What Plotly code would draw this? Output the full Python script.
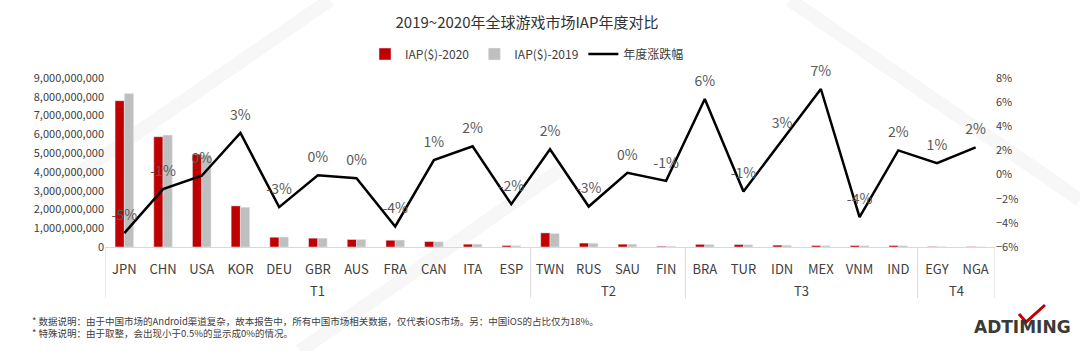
import plotly.graph_objects as go

# ---- data ----
tiers = ["T1"] * 11 + ["T2"] * 4 + ["T3"] * 6 + ["T4"] * 2
countries = ["JPN", "CHN", "USA", "KOR", "DEU", "GBR", "AUS", "FRA", "CAN", "ITA", "ESP",
             "TWN", "RUS", "SAU", "FIN",
             "BRA", "TUR", "IDN", "MEX", "VNM", "IND",
             "EGY", "NGA"]
iap_2020 = [7.79e9, 5.87e9, 4.94e9, 2.19e9, 0.52e9, 0.47e9, 0.40e9, 0.36e9, 0.29e9, 0.15e9, 0.08e9,
            0.75e9, 0.21e9, 0.15e9, 0.04e9,
            0.14e9, 0.13e9, 0.10e9, 0.08e9, 0.08e9, 0.08e9,
            0.02e9, 0.015e9]
iap_2019 = [8.18e9, 5.96e9, 4.90e9, 2.12e9, 0.53e9, 0.47e9, 0.40e9, 0.37e9, 0.28e9, 0.15e9, 0.07e9,
            0.72e9, 0.20e9, 0.15e9, 0.04e9,
            0.13e9, 0.12e9, 0.09e9, 0.07e9, 0.07e9, 0.07e9,
            0.015e9, 0.01e9]
yoy_pct = [-4.85, -1.2, -0.1, 3.45, -2.7, -0.05, -0.3, -4.3, 1.2, 2.35, -2.45,
           2.1, -2.65, 0.15, -0.52,
           6.26, -1.4, 2.8, 7.09, -3.52, 2.0,
           0.95, 2.25]
yoy_labels = [f"{round(v)}%" for v in yoy_pct]

title_text = "2019~2020年全球游戏市场IAP年度对比"
note1 = "* 数据说明：由于中国市场的Android渠道复杂，故本报告中，所有中国市场相关数据，仅代表iOS市场。另：中国iOS的占比仅为18%。"
note2 = "* 特殊说明：由于取整，会出现小于0.5%的显示成0%的情况。"

FONT = "Noto Sans CJK SC"
xi = list(range(len(countries)))

fig = go.Figure()
fig.add_trace(go.Bar(x=xi, y=iap_2020, name="IAP($)-2020", marker_color="#C00000"))
fig.add_trace(go.Bar(x=xi, y=iap_2019, name="IAP($)-2019", marker_color="#BFBFBF"))
fig.add_trace(go.Scatter(
    x=xi, y=yoy_pct, name="年度涨跌幅", yaxis="y2",
    mode="lines+markers+text", text=yoy_labels, textposition="top center",
    textfont=dict(size=14, color="#595959", family=FONT),
    line=dict(color="black", width=2.5),
    marker=dict(size=14, color="rgba(0,0,0,0)"),
    cliponaxis=False,
))

# plot area geometry in pixels (for decorations)
L, R, T, B = 105, 995, 78, 247
def px(xp):
    return (xp - L) / (R - L)
def py(yp):
    return (B - yp) / (B - T)

fig.update_layout(
    width=1080, height=351,
    margin=dict(l=L, r=1080 - R, t=T, b=351 - B),
    paper_bgcolor="white", plot_bgcolor="white",
    font=dict(family=FONT, color="#404040", size=12),
    title=dict(text=title_text, x=527 / 1080, xanchor="center", y=1 - 23 / 351, yanchor="middle",
               font=dict(size=15, color="#333333", family=FONT)),
    barmode="group", bargap=0.52, bargroupgap=0,
    showlegend=True,
    legend=dict(orientation="h", x=px(527), xanchor="center", y=py(54), yanchor="middle",
                font=dict(size=12, color="#404040", family=FONT), itemwidth=30,
                bgcolor="rgba(0,0,0,0)"),
    xaxis=dict(range=[-0.5, len(countries) - 0.5], tickmode="array", tickvals=xi, ticktext=countries,
               showline=True, linecolor="#D9D9D9", linewidth=1, zeroline=False,
               ticklabelstandoff=10,
               tickfont=dict(size=13, color="#404040"), ticks="", showgrid=False),
    yaxis=dict(range=[0, 9e9], dtick=1e9, tickformat=",", showgrid=False, zeroline=False,
               showline=False, ticks="", tickfont=dict(size=11, color="#404040")),
    yaxis2=dict(range=[-6, 8], dtick=2, ticksuffix="%", overlaying="y", side="right",
                showgrid=False, zeroline=False, showline=False, ticks="",
                tickfont=dict(size=11, color="#404040")),
)

annotations = [
    dict(text=note1, xref="paper", yref="paper", x=px(30), y=py(321), showarrow=False,
         xanchor="left", yanchor="middle", font=dict(size=9.5, color="#404040", family=FONT)),
    dict(text=note2, xref="paper", yref="paper", x=px(30), y=py(333), showarrow=False,
         xanchor="left", yanchor="middle", font=dict(size=9.5, color="#404040", family=FONT)),
    dict(text="<b>ADTIMING</b>", xref="paper", yref="paper", x=px(1073), y=py(327), showarrow=False,
         xanchor="right", yanchor="middle", font=dict(size=17, color="#3A3A3A", family="DejaVu Sans")),
]

# group labels and dividers of the two-level category axis
groups = []
for i, t in enumerate(tiers):
    if not groups or groups[-1][0] != t:
        groups.append([t, i, i])
    else:
        groups[-1][2] = i
boundaries = [-0.5] + [g[2] + 0.5 for g in groups]
for name, i0, i1 in groups:
    annotations.append(dict(text=name, xref="x", yref="paper", x=(i0 + i1) / 2, y=py(290),
                            showarrow=False, xanchor="center", yanchor="middle",
                            font=dict(size=13, color="#404040", family=FONT)))
for b in boundaries:
    fig.add_shape(type="line", xref="x", yref="paper", x0=b, x1=b, y0=0, y1=py(298),
                  line=dict(color="#D9D9D9", width=1))
fig.update_layout(annotations=annotations)

# faint background strokes (watermark-like decoration)
for (x0, y0, x1, y1) in [(40, 200, 330, 0), (790, 0, 1080, 200), (300, 351, 560, 170)]:
    fig.add_shape(type="line", xref="paper", yref="paper", layer="below",
                  x0=px(x0), y0=py(y0), x1=px(x1), y1=py(y1),
                  line=dict(color="rgba(0,0,0,0.03)", width=14))

# red check mark on the logo
path = f"M {px(1019)},{py(314)} L {px(1026)},{py(322)} L {px(1045)},{py(305)}"
fig.add_shape(type="path", xref="paper", yref="paper", path=path,
              line=dict(color="#C00000", width=3))

fig.write_html("out.html")
